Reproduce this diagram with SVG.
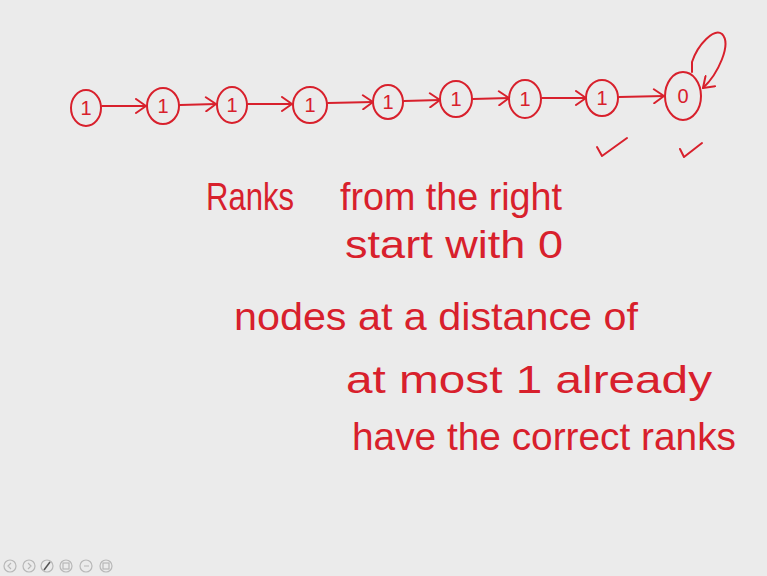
<svg xmlns="http://www.w3.org/2000/svg" width="767" height="576" viewBox="0 0 767 576">
<style>
.ink{fill:none;stroke:#d8202c;stroke-width:2;stroke-linecap:round;stroke-linejoin:round}
.lbl{font-family:"Liberation Sans",Arial,sans-serif;font-size:20px;fill:#d8202c;text-anchor:middle}
.hw{font-family:"Liberation Sans",Arial,sans-serif;font-size:38px;fill:#d8202c}
.tb{fill:none;stroke:#b8b8b8;stroke-width:1.2}
</style>
<defs>
<marker id="ah" markerUnits="userSpaceOnUse" markerWidth="16" markerHeight="16" refX="12" refY="8" orient="auto">
<path d="M2,1 L12,8 L2,15" fill="none" stroke="#d8202c" stroke-width="2" stroke-linecap="round" stroke-linejoin="round"/>
</marker>
</defs>
<rect width="767" height="576" fill="#ebebeb"/>
<g id="n1"><ellipse class="ink" cx="86" cy="108" rx="15" ry="18"/><text class="lbl" x="86" y="115">1</text></g>
<g id="n2"><ellipse class="ink" cx="163" cy="106" rx="16" ry="18"/><text class="lbl" x="163" y="113">1</text></g>
<g id="n3"><ellipse class="ink" cx="232" cy="105" rx="15" ry="18"/><text class="lbl" x="232" y="112">1</text></g>
<g id="n4"><ellipse class="ink" cx="310" cy="105" rx="17" ry="18"/><text class="lbl" x="310" y="112">1</text></g>
<g id="n5"><ellipse class="ink" cx="388" cy="102" rx="15" ry="17"/><text class="lbl" x="388" y="109">1</text></g>
<g id="n6"><ellipse class="ink" cx="456" cy="99" rx="16" ry="18"/><text class="lbl" x="456" y="106">1</text></g>
<g id="n7"><ellipse class="ink" cx="525" cy="99" rx="16" ry="19"/><text class="lbl" x="525" y="106">1</text></g>
<g id="n8"><ellipse class="ink" cx="602" cy="98" rx="16" ry="18"/><text class="lbl" x="602" y="105">1</text></g>
<g id="n9"><ellipse class="ink" cx="683" cy="96" rx="18" ry="24"/><text class="lbl" x="683" y="103">0</text></g>
<g id="connectors">
<path class="ink" d="M102,106 L146,106" marker-end="url(#ah)"/>
<path class="ink" d="M180,105 L216,104" marker-end="url(#ah)"/>
<path class="ink" d="M248,104 L292,104" marker-end="url(#ah)"/>
<path class="ink" d="M328,103 L373,102" marker-end="url(#ah)"/>
<path class="ink" d="M404,101 L440,100" marker-end="url(#ah)"/>
<path class="ink" d="M473,99 L509,98" marker-end="url(#ah)"/>
<path class="ink" d="M542,98 L586,98" marker-end="url(#ah)"/>
<path class="ink" d="M619,97 L664,96" marker-end="url(#ah)"/>
<path class="ink" d="M692,72 L692,62 C698,44 714,28 722,34 C732,44 718,74 703,88" marker-end="url(#ah)"/>
</g>
<g id="checks">
<path class="ink" d="M597,147 L602,156 L627,138"/>
<path class="ink" d="M680,149 L684,157 L702,143"/>
</g>
<g id="notes">
<text class="hw" x="206" y="210" textLength="88" lengthAdjust="spacingAndGlyphs">Ranks</text>
<text class="hw" x="340" y="210" textLength="222" lengthAdjust="spacingAndGlyphs">from the right</text>
<text class="hw" x="345" y="258" textLength="218" lengthAdjust="spacingAndGlyphs">start with 0</text>
<text class="hw" x="234" y="330" textLength="404" lengthAdjust="spacingAndGlyphs">nodes at a distance of</text>
<text class="hw" x="346" y="393" textLength="366" lengthAdjust="spacingAndGlyphs">at most 1 already</text>
<text class="hw" x="352" y="450" textLength="384" lengthAdjust="spacingAndGlyphs">have the correct ranks</text>
</g>
<g id="toolbar">
<circle class="tb" cx="10" cy="566" r="6"/><circle class="tb" cx="29" cy="566" r="6"/><circle class="tb" cx="47" cy="566" r="6"/>
<circle class="tb" cx="66" cy="566" r="6"/><circle class="tb" cx="86" cy="566" r="6"/><circle class="tb" cx="106" cy="566" r="6"/>
<path class="tb" d="M11,563 L8,566 L11,569 M28,563 L31,566 L28,569 M84,566 L89,566"/>
<path d="M44,570 L50,562" stroke="#555" stroke-width="1.6"/>
<rect class="tb" x="63" y="563" width="6" height="6"/><rect class="tb" x="103" y="563" width="6" height="6"/>
</g>
</svg>
